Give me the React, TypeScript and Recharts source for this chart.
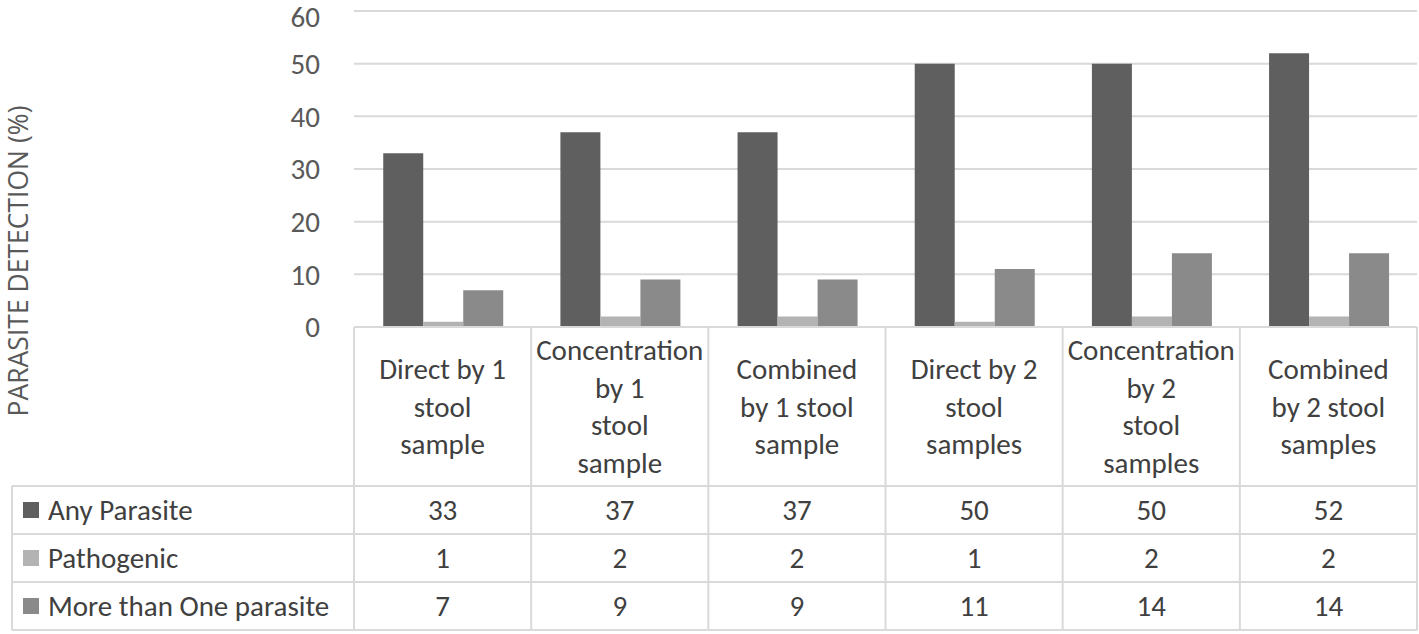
import { Bar, BarChart, CartesianGrid, XAxis, YAxis } from "recharts"

const categories = [
  "Direct by 1\nstool\nsample",
  "Concentration\nby 1\nstool\nsample",
  "Combined\nby 1 stool\nsample",
  "Direct by 2\nstool\nsamples",
  "Concentration\nby 2\nstool\nsamples",
  "Combined\nby 2 stool\nsamples",
]
const anyParasite = [33, 37, 37, 50, 50, 52]
const pathogenic = [1, 2, 2, 1, 2, 2]
const moreThanOne = [7, 9, 9, 11, 14, 14]
const yTicks = [0, 10, 20, 30, 40, 50, 60]

const series = [
  { key: "any", name: "Any Parasite", values: anyParasite, color: "#5f5f5f" },
  { key: "path", name: "Pathogenic", values: pathogenic, color: "#b3b3b3" },
  { key: "more", name: "More than One parasite", values: moreThanOne, color: "#8a8a8a" },
]

const data = categories.map((c, i) => ({
  cat: c,
  any: anyParasite[i],
  path: pathogenic[i],
  more: moreThanOne[i],
}))

const FONT = "Carlito, 'Liberation Sans Narrow', 'DejaVu Sans Condensed', sans-serif"
const FS = 29
const TEXT = "#404040"
const LINE = "#d9d9d9"
const HEADER_H = 159
const ROW_H = 48
const LEGEND_W = 342

// draws the data table column for each category (and the legend column for the first)
function TableTick(props: any) {
  const { x, y, payload, index } = props
  const half = payload.offset
  const left = x - half
  const right = x + half
  const rowsTop = y + HEADER_H
  const bottom = rowsTop + ROW_H * 3
  const lines = String(payload.value).split("\n")
  const lh = 37.5
  const firstY = y + HEADER_H / 2 - ((lines.length - 1) * lh) / 2
  const legLeft = left - LEGEND_W
  return (
    <g>
      <line x1={right} x2={right} y1={y} y2={bottom} stroke={LINE} strokeWidth={2} />
      {index === 0 && (
        <>
          <line x1={left} x2={left} y1={y} y2={bottom} stroke={LINE} strokeWidth={2} />
          <line x1={legLeft} x2={legLeft} y1={rowsTop} y2={bottom} stroke={LINE} strokeWidth={2} />
          {[0, 1, 2, 3].map((k) => (
            <line key={k} x1={legLeft} x2={left} y1={rowsTop + k * ROW_H} y2={rowsTop + k * ROW_H} stroke={LINE} strokeWidth={2} />
          ))}
          {series.map((s, i) => (
            <g key={s.key}>
              <rect x={legLeft + 11} y={rowsTop + ROW_H * (i + 0.5) - 8} width={16} height={16} fill={s.color} />
              <text x={legLeft + 36} y={rowsTop + ROW_H * (i + 0.5)} dominantBaseline="central" fontSize={FS} fontFamily={FONT} fill={TEXT}>
                {s.name}
              </text>
            </g>
          ))}
        </>
      )}
      {[0, 1, 2, 3].map((k) => (
        <line key={k} x1={left} x2={right} y1={rowsTop + k * ROW_H} y2={rowsTop + k * ROW_H} stroke={LINE} strokeWidth={2} />
      ))}
      {lines.map((l, i) => (
        <text key={i} x={x} y={firstY + i * lh} textAnchor="middle" dominantBaseline="central" fontSize={FS} fontFamily={FONT} fill={TEXT}>
          {l}
        </text>
      ))}
      {series.map((s, i) => (
        <text key={s.key} x={x} y={rowsTop + ROW_H * (i + 0.5)} textAnchor="middle" dominantBaseline="central" fontSize={FS} fontFamily={FONT} fill={TEXT}>
          {s.values[index]}
        </text>
      ))}
    </g>
  )
}

function YTitle() {
  return (
    <text x={18} y={261} transform="rotate(-90, 18, 261)" textAnchor="middle" dominantBaseline="central" fontSize={26.5} fontFamily="'Open Sans', 'Liberation Sans', sans-serif" fill="#595959">
      PARASITE DETECTION (%)
    </text>
  )
}

export default function App() {
  return (
    <div style={{ position: "absolute", left: 0, top: 0, background: "#fff" }}>
      <BarChart
        width={1419}
        height={634}
        data={data}
        margin={{ top: 11, right: 2, bottom: 0, left: 0 }}
        barCategoryGap="16.5%"
        barGap={0}
      >
        <CartesianGrid vertical={false} stroke={LINE} strokeWidth={2} />
        <YAxis
          width={354}
          domain={[0, 60]}
          ticks={yTicks}
          axisLine={false}
          tickLine={false}
          tickMargin={28}
          tick={{ fontSize: FS, fontFamily: FONT, fill: "#595959" }}
          label={<YTitle />}
        />
        <XAxis
          dataKey="cat"
          height={307}
          interval={0}
          tickLine={false}
          tickSize={0}
          tickMargin={0}
          axisLine={{ stroke: LINE, strokeWidth: 2 }}
          tick={<TableTick />}
        />
        {series.map((s) => (
          <Bar key={s.key} dataKey={s.key} name={s.name} fill={s.color} isAnimationActive={false} />
        ))}
      </BarChart>
    </div>
  )
}
